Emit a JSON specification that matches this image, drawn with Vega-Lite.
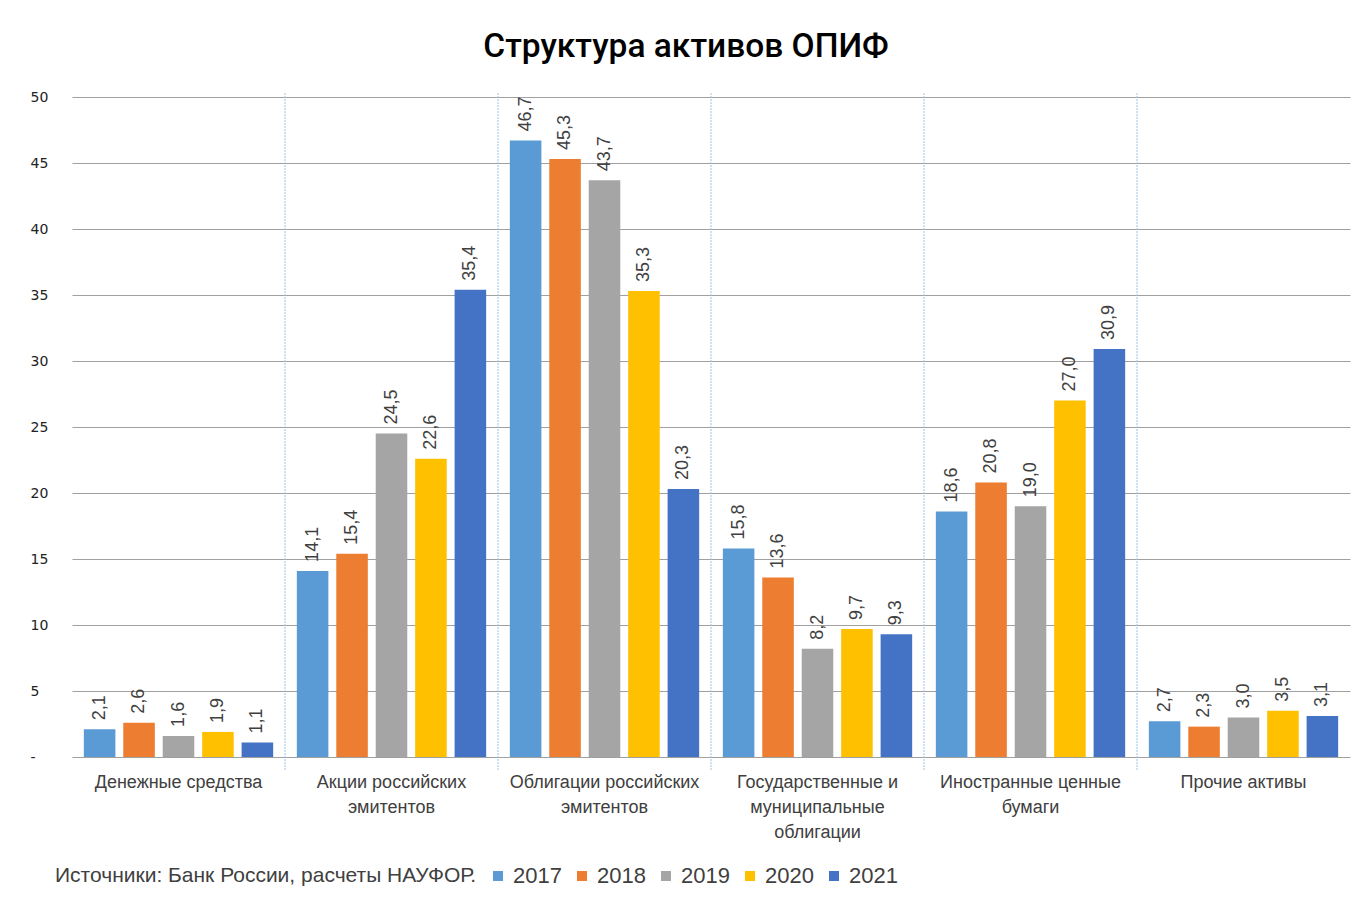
{
  "$schema": "https://vega.github.io/schema/vega-lite/v6.json",
  "width": 1278,
  "height": 660,
  "autosize": "none",
  "padding": {"left": 72, "top": 97, "right": 7, "bottom": 141},
  "background": "white",
  "title": {
    "text": "Структура активов ОПИФ",
    "anchor": "middle",
    "frame": "group",
    "baseline": "alphabetic",
    "offset": 0,
    "dx": -25,
    "fontSize": 33.5,
    "fontWeight": 500,
    "font": "Roboto",
    "color": "#000000"
  },
  "datasets": {
    "bars": [
      {"cat": "Денежные средства", "year": "2017", "value": 2.1},
      {"cat": "Денежные средства", "year": "2018", "value": 2.6},
      {"cat": "Денежные средства", "year": "2019", "value": 1.6},
      {"cat": "Денежные средства", "year": "2020", "value": 1.9},
      {"cat": "Денежные средства", "year": "2021", "value": 1.1},
      {"cat": "Акции российских|эмитентов", "year": "2017", "value": 14.1},
      {"cat": "Акции российских|эмитентов", "year": "2018", "value": 15.4},
      {"cat": "Акции российских|эмитентов", "year": "2019", "value": 24.5},
      {"cat": "Акции российских|эмитентов", "year": "2020", "value": 22.6},
      {"cat": "Акции российских|эмитентов", "year": "2021", "value": 35.4},
      {"cat": "Облигации российских|эмитентов", "year": "2017", "value": 46.7},
      {"cat": "Облигации российских|эмитентов", "year": "2018", "value": 45.3},
      {"cat": "Облигации российских|эмитентов", "year": "2019", "value": 43.7},
      {"cat": "Облигации российских|эмитентов", "year": "2020", "value": 35.3},
      {"cat": "Облигации российских|эмитентов", "year": "2021", "value": 20.3},
      {"cat": "Государственные и|муниципальные|облигации", "year": "2017", "value": 15.8},
      {"cat": "Государственные и|муниципальные|облигации", "year": "2018", "value": 13.6},
      {"cat": "Государственные и|муниципальные|облигации", "year": "2019", "value": 8.2},
      {"cat": "Государственные и|муниципальные|облигации", "year": "2020", "value": 9.7},
      {"cat": "Государственные и|муниципальные|облигации", "year": "2021", "value": 9.3},
      {"cat": "Иностранные ценные|бумаги", "year": "2017", "value": 18.6},
      {"cat": "Иностранные ценные|бумаги", "year": "2018", "value": 20.8},
      {"cat": "Иностранные ценные|бумаги", "year": "2019", "value": 19.0},
      {"cat": "Иностранные ценные|бумаги", "year": "2020", "value": 27.0},
      {"cat": "Иностранные ценные|бумаги", "year": "2021", "value": 30.9},
      {"cat": "Прочие активы", "year": "2017", "value": 2.7},
      {"cat": "Прочие активы", "year": "2018", "value": 2.3},
      {"cat": "Прочие активы", "year": "2019", "value": 3.0},
      {"cat": "Прочие активы", "year": "2020", "value": 3.5},
      {"cat": "Прочие активы", "year": "2021", "value": 3.1}
    ],
    "seps": [
      {"cat": "Акции российских|эмитентов", "top": 50.3, "bottom": -1},
      {"cat": "Облигации российских|эмитентов", "top": 50.3, "bottom": -1},
      {"cat": "Государственные и|муниципальные|облигации", "top": 50.3, "bottom": -1},
      {"cat": "Иностранные ценные|бумаги", "top": 50.3, "bottom": -1},
      {"cat": "Прочие активы", "top": 50.3, "bottom": -1}
    ]
  },
  "layer": [
    {
      "data": {"name": "seps"},
      "mark": {"type": "rule", "color": "#9dc3e6", "strokeWidth": 1, "strokeDash": [2, 1]},
      "encoding": {
        "x": {
          "field": "cat", "type": "nominal", "bandPosition": 0, "title": null,
          "sort": ["Денежные средства", "Акции российских|эмитентов", "Облигации российских|эмитентов", "Государственные и|муниципальные|облигации", "Иностранные ценные|бумаги", "Прочие активы"]
        },
        "y": {"field": "top", "type": "quantitative", "title": null},
        "y2": {"field": "bottom"}
      }
    },
    {
      "data": {"name": "bars"},
      "mark": {"type": "bar"},
      "encoding": {
        "x": {
          "field": "cat", "type": "nominal", "title": null,
          "sort": ["Денежные средства", "Акции российских|эмитентов", "Облигации российских|эмитентов", "Государственные и|муниципальные|облигации", "Иностранные ценные|бумаги", "Прочие активы"],
          "scale": {"paddingInner": 0, "paddingOuter": 0},
          "axis": {
            "title": null,
            "labelAngle": 0,
            "labelAlign": "center",
            "labelExpr": "split(datum.label, '|')",
            "labelFontSize": 18,
            "labelFont": "Liberation Sans",
            "labelColor": "#404040",
            "labelLineHeight": 25,
            "labelPadding": 16,
            "labelBaseline": "top",
            "labelLimit": 0,
            "ticks": false,
            "domain": false,
            "grid": false
          }
        },
        "xOffset": {
          "field": "year", "type": "nominal",
          "scale": {"paddingInner": 0.2, "paddingOuter": 0.3}
        },
        "y": {
          "field": "value", "type": "quantitative", "title": null,
          "scale": {"domain": [0, 50], "nice": false},
          "axis": {
            "title": null,
            "values": [0, 5, 10, 15, 20, 25, 30, 35, 40, 45, 50],
            "labelExpr": "datum.value == 0 ? '-' : datum.label",
            "labelAlign": "left",
            "labelPadding": 42,
            "tickSize": 0,
            "ticks": false,
            "domain": false,
            "labelFontSize": 14,
            "labelFont": "DejaVu Sans",
            "labelColor": "#222222",
            "grid": true,
            "gridColor": "#a0a0a0",
            "gridWidth": 1
          }
        },
        "color": {
          "field": "year", "type": "nominal",
          "scale": {
            "domain": ["2017", "2018", "2019", "2020", "2021"],
            "range": ["#5B9BD5", "#ED7D31", "#A5A5A5", "#FFC000", "#4472C4"]
          },
          "legend": {
            "orient": "none",
            "legendX": -17,
            "legendY": 768,
            "direction": "horizontal",
            "title": "Источники: Банк России, расчеты НАУФОР.",
            "titleOrient": "left",
            "titleFontSize": 21,
            "titleFontWeight": "normal",
            "titleFont": "Liberation Sans",
            "titleColor": "#404040",
            "titlePadding": 10,
            "titleBaseline": "middle",
            "titleLimit": 600,
            "symbolType": "square",
            "symbolSize": 100,
            "symbolStrokeWidth": 0,
            "labelFontSize": 22,
            "labelFont": "Liberation Sans",
            "labelColor": "#404040",
            "labelOffset": 4,
            "columnPadding": 9
          }
        }
      }
    },
    {
      "data": {"name": "bars"},
      "mark": {"type": "text", "angle": 270, "align": "left", "baseline": "middle", "dx": 9, "fontSize": 18, "font": "Liberation Sans", "color": "#404040"},
      "encoding": {
        "x": {
          "field": "cat", "type": "nominal", "title": null,
          "sort": ["Денежные средства", "Акции российских|эмитентов", "Облигации российских|эмитентов", "Государственные и|муниципальные|облигации", "Иностранные ценные|бумаги", "Прочие активы"]
        },
        "xOffset": {"field": "year", "type": "nominal"},
        "y": {"field": "value", "type": "quantitative", "title": null},
        "text": {"field": "value", "type": "quantitative", "format": ".1f"}
      }
    }
  ],
  "config": {
    "view": {"stroke": null},
    "locale": {
      "number": {"decimal": ",", "thousands": " ", "grouping": [3], "currency": ["", " ₽"]}
    }
  }
}
